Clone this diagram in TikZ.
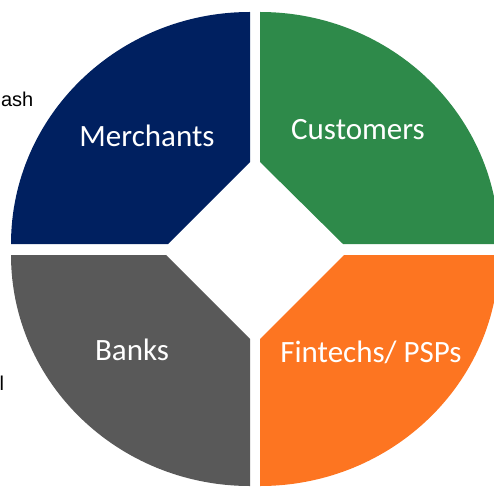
\documentclass[tikz,border=0pt]{standalone}
\usepackage{fontspec}
\setmainfont{Carlito}
\newfontfamily\arialfont{Liberation Sans}
\definecolor{navyq}{HTML}{002060}
\definecolor{greenq}{HTML}{2E8A4A}
\definecolor{grayq}{HTML}{595959}
\definecolor{orangeq}{HTML}{FD7521}
\begin{document}
\begin{tikzpicture}[x=1pt,y=-1pt,
  lbl/.style={text=white,font=\fontsize{31}{35}\selectfont,inner sep=0pt,anchor=center},
  side/.style={text=black,font=\arialfont\fontsize{20}{24}\selectfont,inner sep=0pt}]
\useasboundingbox (0,0) rectangle (494,486);
% Merchants (navy)
\begin{scope}
  \clip (250,0) -- (250,162) -- (168,244) -- (0,244) -- (0,0) -- cycle;
  \fill[navyq] (250,244) ellipse [x radius=239, y radius=232];
\end{scope}
% Customers (green)
\begin{scope}
  \clip (260,0) -- (260,162) -- (343,244) -- (494,244) -- (494,0) -- cycle;
  \fill[greenq] (260,244) ellipse [x radius=239, y radius=232];
\end{scope}
% Banks (gray)
\begin{scope}
  \clip (250,486) -- (250,339) -- (166,255) -- (0,255) -- (0,486) -- cycle;
  \fill[grayq] (250,255) ellipse [x radius=239, y radius=231];
\end{scope}
% Fintechs (orange)
\begin{scope}
  \clip (260,486) -- (260,339) -- (344,255) -- (494,255) -- (494,486) -- cycle;
  \fill[orangeq] (260,255) ellipse [x radius=239, y radius=231];
\end{scope}
\node[lbl] (merchants) at (147,136) {Merchants};
\node[lbl] (customers) at (358,130) {Customers};
\node[lbl] (banks) at (132,350) {Banks};
\node[lbl] (fintechs) at (371,352) {Fintechs/ PSPs};
\node[side,anchor=base east] (ash) at (33.5,107) {ash};
\node[side,anchor=base east] (ell) at (4.3,390) {l};
\end{tikzpicture}
\end{document}
